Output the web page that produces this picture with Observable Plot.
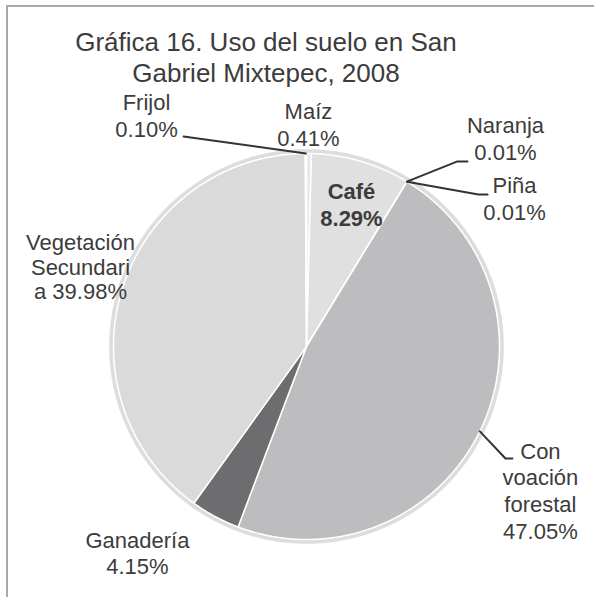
<!DOCTYPE html>
<html><head><meta charset="utf-8">
<script src="https://cdn.jsdelivr.net/npm/d3@7"></script>
<script src="https://cdn.jsdelivr.net/npm/@observablehq/plot@0.6"></script>
<style>
body{margin:0;background:#fff;}
#wrap{position:relative;width:594px;height:597px;overflow:hidden;font-family:"Liberation Sans",Arial,sans-serif;}
#frame{position:absolute;left:6px;top:5px;width:700px;height:700px;border-left:2px solid #a9a9a9;border-top:2px solid #a9a9a9;}
#title{position:absolute;left:0;width:532px;top:27px;text-align:center;font-size:26px;line-height:31px;color:#3c3c3c;}
#chart{position:absolute;left:0;top:0;}
</style></head>
<body><div id="wrap"><div id="frame"></div><div id="chart"></div>
<div id="title">Gráfica 16. Uso del suelo en San<br>Gabriel Mixtepec, 2008</div></div>
<script>
// ---- data ----
const categories = ["Maíz","Café","Naranja","Piña","Con voación forestal","Ganadería","Vegetación Secundaria","Frijol"];
const shares = [0.41, 8.29, 0.01, 0.01, 47.05, 4.15, 39.98, 0.10];
const labelLines = ["Maíz\n0.41%", "Café\n8.29%", "Naranja\n0.01%", "Piña\n0.01%", "Con\nvoación\nforestal\n47.05%", "Ganadería\n4.15%", "Vegetación\nSecundari\na 39.98%", "Frijol\n0.10%"];

// ---- style / layout (in pie-radius units) ----
const sliceColors = ["#e6e6e6","#e0e0e0","#bdbdbf","#bdbdbf","#bdbdbf","#6d6d6f","#dadada","#737373"];
const labelLayout = {
  "Maíz": {x: 0.01, y: 1.041, lh: 1.23},
  "Café": {x: 0.233, y: 0.622, lh: 1.23, bold: true},
  "Naranja": {x: 1.031, y: 0.964, lh: 1.23, elbow: [[0.782,0.959],[0.834,0.959]]},
  "Piña": {x: 1.078, y: 0.653, lh: 1.23, elbow: [[0.891,0.788],[0.938,0.788]]},
  "Con voación forestal": {x: 1.212, y: -0.995, lh: 1.21, elbow: [[1.031,-0.58],[1.067,-0.58]]},
  "Ganadería": {x: -0.876, y: -1.181, lh: 1.2},
  "Vegetación Secundaria": {x: -1.171, y: 0.244, lh: 1.12},
  "Frijol": {x: -0.829, y: 1.083, lh: 1.23, elbow: [[-0.637,1.088]]}
};
const CX = 306, CY = 346, R = 193;

// ---- geometry ----
const arcs = d3.pie().sort(null).value((d, i) => shares[i])(categories);
const pts = [];
arcs.forEach((a, i) => {
  const cat = categories[i];
  pts.push({cat, x: 0, y: 0});
  const n = Math.max(2, Math.ceil((a.endAngle - a.startAngle) / 0.005));
  for (let k = 0; k <= n; k++) {
    const t = a.startAngle + (a.endAngle - a.startAngle) * k / n;
    pts.push({cat, x: Math.sin(t), y: Math.cos(t)});
  }
  pts.push({cat, x: 0, y: 0});
});
const ring = d3.range(0, 361, 1).map(d => ({x: 1.012 * Math.sin(d * Math.PI / 180), y: 1.012 * Math.cos(d * Math.PI / 180)}));

const leaders = [];
arcs.forEach((a, i) => {
  const L = labelLayout[categories[i]];
  if (!L.elbow) return;
  const m = (a.startAngle + a.endAngle) / 2;
  leaders.push({cat: categories[i], x: Math.sin(m), y: Math.cos(m)});
  L.elbow.forEach(([x, y]) => leaders.push({cat: categories[i], x, y}));
});
const labels = categories.map((c, i) => ({cat: c, text: labelLines[i], ...labelLayout[c]}));

const textMark = (data, lh, weight) => Plot.text(data, {
  x: "x", y: "y", text: "text", textAnchor: "middle", lineAnchor: "bottom",
  lineHeight: lh, fontSize: 22, fill: "#3c3c3c", fontWeight: weight
});

const chart = Plot.plot({
  width: 594, height: 597, margin: 0,
  style: {fontFamily: "'Liberation Sans', Arial, sans-serif", background: "transparent", overflow: "visible"},
  x: {domain: [-1, 1], range: [CX - R, CX + R], axis: null},
  y: {domain: [-1, 1], range: [CY + R, CY - R], axis: null},
  color: {domain: categories, range: sliceColors},
  marks: [
    Plot.line(ring, {x: "x", y: "y", stroke: "#d4d4d4", strokeWidth: 4, strokeOpacity: 0.8}),
    Plot.line(pts, {x: "x", y: "y", z: "cat", fill: "cat", stroke: "#ffffff", strokeWidth: 1.5, strokeLinejoin: "round"}),
    Plot.line(leaders, {x: "x", y: "y", z: "cat", stroke: "#333333", strokeWidth: 2}),
    ...labels.map(d => textMark([d], d.lh, d.bold ? "bold" : "normal"))
  ]
});
document.getElementById("chart").appendChild(chart);
</script></body></html>
